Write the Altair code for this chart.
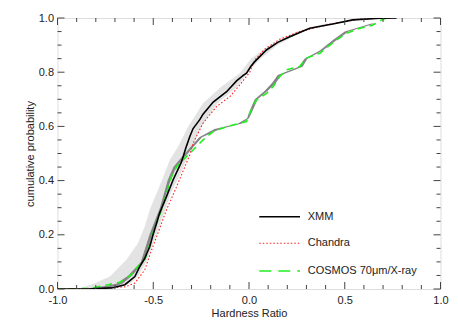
import altair as alt
import pandas as pd

# ---- data ----
xmm_hr = [-1.0, -0.84, -0.718, -0.648, -0.596, -0.570, -0.544, -0.518, -0.501, -0.466, -0.431, -0.396,
          -0.352, -0.33, -0.309, -0.292, -0.257, -0.240, -0.187, -0.117, -0.065, -0.03, -0.013, 0.010,
          0.030, 0.091, 0.15, 0.213, 0.317, 0.437, 0.542, 0.683, 0.771]
xmm_cp = [0.0, 0.0, 0.004, 0.016, 0.046, 0.083, 0.114, 0.157, 0.200, 0.281, 0.341, 0.403,
          0.470, 0.52, 0.563, 0.592, 0.625, 0.645, 0.690, 0.728, 0.768, 0.788, 0.796, 0.822,
          0.839, 0.882, 0.910, 0.931, 0.962, 0.978, 0.993, 0.999, 1.0]

chandra_hr = [-1.0, -0.78, -0.648, -0.596, -0.544, -0.508, -0.482, -0.431, -0.378, -0.309, -0.292,
              -0.240, -0.170, -0.100, -0.048, 0.004, 0.030, 0.082, 0.161, 0.265, 0.422, 0.578, 0.735]
chandra_cp = [0.0, 0.001, 0.008, 0.022, 0.071, 0.145, 0.194, 0.292, 0.378, 0.495, 0.538,
              0.612, 0.673, 0.710, 0.753, 0.800, 0.845, 0.885, 0.922, 0.950, 0.977, 0.996, 1.0]

cosmos_hr = [-1.0, -0.83, -0.735, -0.674, -0.62, -0.596, -0.544, -0.52, -0.508, -0.466, -0.44, -0.405,
             -0.377, -0.343, -0.292, -0.240, -0.187, -0.117, -0.048, -0.013, 0.004, 0.039, 0.092,
             0.126, 0.161, 0.196, 0.265, 0.300, 0.370, 0.413, 0.457, 0.509, 0.579, 0.648, 0.692, 0.72]
cosmos_cp = [0.0, 0.002, 0.016, 0.025, 0.05, 0.071, 0.108, 0.16, 0.194, 0.274, 0.33, 0.415,
             0.452, 0.477, 0.513, 0.550, 0.581, 0.599, 0.612, 0.618, 0.649, 0.698, 0.722,
             0.747, 0.784, 0.809, 0.821, 0.852, 0.870, 0.894, 0.919, 0.943, 0.962, 0.974, 0.993, 1.0]

# light grey envelope (horizontal band)
band_cp    = [0.0, 0.01, 0.02, 0.046, 0.108, 0.169, 0.231, 0.292, 0.354, 0.415, 0.477, 0.526,
              0.60, 0.685, 0.747, 0.796, 0.85, 0.90, 0.95, 0.98]
band_left  = [-0.90, -0.85, -0.81, -0.726, -0.64, -0.58, -0.544, -0.518, -0.482, -0.447, -0.413, -0.37,
              -0.317, -0.24, -0.143, -0.048, 0.01, 0.11, 0.25, 0.40]
band_right = [-0.80, -0.66, -0.62, -0.58, -0.53, -0.50, -0.468, -0.436, -0.408, -0.365, -0.325, -0.298,
              -0.248, -0.165, -0.06, -0.01, 0.06, 0.15, 0.28, 0.44]

# dark grey band along COSMOS
dark_cp    = [0.0, 0.005, 0.012, 0.02, 0.05, 0.1, 0.2, 0.3, 0.4, 0.45, 0.48, 0.52, 0.56, 0.59, 0.61,
              0.63, 0.66, 0.70, 0.73, 0.76, 0.79, 0.82, 0.85, 0.88, 0.92, 0.95, 0.98]
dark_left  = [-0.86, -0.82, -0.74, -0.69, -0.63, -0.565, -0.52, -0.465, -0.425, -0.395, -0.36, -0.31,
              -0.26, -0.18, -0.06, -0.01, 0.005, 0.03, 0.08, 0.12, 0.15, 0.26, 0.29, 0.37, 0.44, 0.50, 0.64]
dark_right = [-0.80, -0.74, -0.69, -0.66, -0.61, -0.55, -0.505, -0.455, -0.41, -0.38, -0.345, -0.295,
              -0.245, -0.15, -0.04, 0.0, 0.02, 0.045, 0.095, 0.14, 0.17, 0.28, 0.305, 0.385, 0.46, 0.52, 0.66]

legend_labels = ["XMM", "Chandra", "COSMOS 70\u03bcm/X-ray"]

x_major = [-1.0, -0.5, 0.0, 0.5, 1.0]
x_minor = [-0.9, -0.8, -0.7, -0.6, -0.4, -0.3, -0.2, -0.1, 0.1, 0.2, 0.3, 0.4, 0.6, 0.7, 0.8, 0.9]
y_major = [0.0, 0.2, 0.4, 0.6, 0.8, 1.0]
y_minor = [0.05, 0.1, 0.15, 0.25, 0.3, 0.35, 0.45, 0.5, 0.55, 0.65, 0.7, 0.75, 0.85, 0.9, 0.95]

# ---- chart ----
W, H = 383, 271
FONT = "Liberation Sans"

xs = alt.Scale(domain=[-1, 1], nice=False, zero=False)
ys = alt.Scale(domain=[0, 1], nice=False, zero=False)

def line_df(hr, cp):
    return pd.DataFrame({"hr": hr, "cp": cp, "i": range(len(hr))})

band_df = pd.DataFrame({"cp": band_cp, "l": band_left, "r": band_right})
dark_df = pd.DataFrame({"cp": dark_cp, "l": dark_left, "r": dark_right})

xaxis = alt.Axis(values=x_major, ticks=False, grid=False, domain=False, labelFontSize=11,
                 labelFont=FONT, labelColor="#222", labelPadding=5, labelFlush=False,
                 title="Hardness Ratio",
                 titleFont=FONT, titleFontSize=11, titleFontWeight="normal", titleColor="#222",
                 titlePadding=2,
                 labelExpr="(datum.value < 0 ? '-' : '') + format(abs(datum.value), '.1f')")
yaxis = alt.Axis(values=y_major, ticks=False, grid=False, domain=False, labelFontSize=11,
                 labelFont=FONT, labelColor="#222", labelPadding=4, format=".1f", labelFlush=False,
                 title="cumulative probability", titleFont=FONT, titleFontSize=11,
                 titleFontWeight="normal", titleColor="#222", titlePadding=3)

band = alt.Chart(band_df).mark_area(orient="horizontal", color="#e3e3e3").encode(
    y=alt.Y("cp:Q", scale=ys, axis=yaxis),
    x=alt.X("l:Q", scale=xs, axis=xaxis, stack=None),
    x2="r:Q",
)
dark = alt.Chart(dark_df).mark_area(orient="horizontal", color="#858585").encode(
    y=alt.Y("cp:Q", scale=ys),
    x=alt.X("l:Q", scale=xs, stack=None),
    x2="r:Q",
)

def curve(hr, cp, color, width, dash=None):
    kw = dict(color=color, strokeWidth=width, clip=True)
    if dash is not None:
        kw["strokeDash"] = dash
    return alt.Chart(line_df(hr, cp)).mark_line(**kw).encode(
        x=alt.X("hr:Q", scale=xs), y=alt.Y("cp:Q", scale=ys), order="i:Q")

cosmos = curve(cosmos_hr, cosmos_cp, "#22ee22", 1.6, [7, 5])
chandra = curve(chandra_hr, chandra_cp, "#ff2020", 1.1, [1.5, 2])
xmm = curve(xmm_hr, xmm_cp, "#000000", 1.6)

def ticks_x(vals, length):
    d = pd.DataFrame({"v": vals})
    b = alt.Chart(d).mark_rule(color="#444", strokeWidth=1).encode(
        x=alt.X("v:Q", scale=xs), y=alt.value(H), y2=alt.value(H - length))
    t = alt.Chart(d).mark_rule(color="#444", strokeWidth=1).encode(
        x=alt.X("v:Q", scale=xs), y=alt.value(0), y2=alt.value(length))
    return [b, t]

def ticks_y(vals, length):
    d = pd.DataFrame({"v": vals})
    l = alt.Chart(d).mark_rule(color="#444", strokeWidth=1).encode(
        y=alt.Y("v:Q", scale=ys), x=alt.value(0), x2=alt.value(length))
    r = alt.Chart(d).mark_rule(color="#444", strokeWidth=1).encode(
        y=alt.Y("v:Q", scale=ys), x=alt.value(W), x2=alt.value(W - length))
    return [l, r]

tick_layers = ticks_x(x_major, 7) + ticks_x(x_minor, 4) + ticks_y(y_major, 7) + ticks_y(y_minor, 4)

# legend
leg_rows = [198.7, 225.3, 253.0]
leg_styles = [("#000000", 1.6, None), ("#ff2020", 1.1, [1.5, 2]), ("#22ee22", 1.6, [12, 7])]
leg_layers = []
for lab, yy, (col, sw, dash) in zip(legend_labels, leg_rows, leg_styles):
    d = pd.DataFrame({"label": [lab]})
    kw = dict(color=col, strokeWidth=sw)
    if dash is not None:
        kw["strokeDash"] = dash
    leg_layers.append(alt.Chart(d).mark_rule(**kw).encode(
        x=alt.value(201.8), x2=alt.value(242.5), y=alt.value(yy)))
    leg_layers.append(alt.Chart(d).mark_text(align="left", baseline="middle", font=FONT,
                                             fontSize=11, color="#222").encode(
        x=alt.value(250.2), y=alt.value(yy), text="label:N"))

chart = alt.layer(band, dark, cosmos, chandra, xmm, *tick_layers, *leg_layers).properties(
    width=W, height=H,
    autosize=alt.AutoSizeParams(type="none"),
    padding={"left": 49.5, "top": 10, "right": 9.5, "bottom": 30},
).configure_view(stroke="#444", strokeWidth=1).configure(background="white")

chart.save("out.html", embed_options={"renderer": "svg", "actions": False})
